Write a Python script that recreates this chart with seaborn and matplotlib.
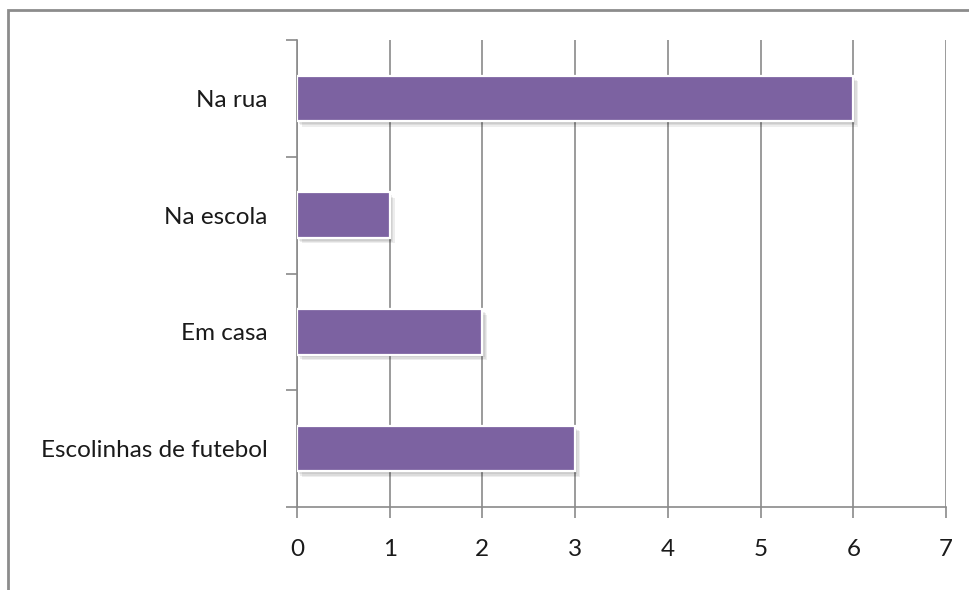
import matplotlib
matplotlib.use("Agg")
import matplotlib.pyplot as plt
import matplotlib.patheffects as pe
from matplotlib.patches import Rectangle
from matplotlib.ticker import FixedLocator
import seaborn as sns
import pandas as pd

categories = ["Na rua", "Na escola", "Em casa", "Escolinhas de futebol"]
values = [6, 1, 2, 3]
x_ticks = [0, 1, 2, 3, 4, 5, 6, 7]

sns.set_theme(style="white")
plt.rcParams["font.family"] = ["Lato", "DejaVu Sans"]

df = pd.DataFrame({"local": categories, "n": values})

fig = plt.figure(figsize=(9.7, 5.9), dpi=100)
ax = fig.add_axes([297 / 970, 1 - 507 / 590, (946 - 297) / 970, (507 - 40) / 590])

grid_c = "#8a8a8a"
sns.barplot(data=df, x="n", y="local", order=categories, orient="h",
            color="#7c62a1", saturation=1, width=0.39,
            edgecolor="white", linewidth=1.6, ax=ax, zorder=3)

# soft drop shadow under each bar
shadow = [pe.SimplePatchShadow(offset=(o, -o - 0.5), shadow_rgbFace="#000000", alpha=0.07)
          for o in (3.5, 2.5, 1.5)]
for bar in ax.patches:
    bar.set_path_effects(shadow + [pe.Normal()])

ax.set_xlim(0, 7)
ax.set_ylim(3.5, -0.5)
ax.set_xticks(x_ticks)
ax.set_xticklabels([str(t) for t in x_ticks])
ax.xaxis.grid(True, color=grid_c, linewidth=1.2, zorder=0)
ax.set_axisbelow(True)
ax.set_xlabel("")
ax.set_ylabel("")

for side in ["top", "right"]:
    ax.spines[side].set_visible(False)
for side in ["left", "bottom"]:
    ax.spines[side].set_color(grid_c)
    ax.spines[side].set_linewidth(1.2)

ax.tick_params(axis="x", which="major", direction="out", length=8, width=1.2,
               color=grid_c, pad=15, labelsize=17.5, labelcolor="#1a1a1a",
               bottom=True)
ax.tick_params(axis="y", which="major", length=0, pad=21, labelsize=17.5,
               labelcolor="#1a1a1a", left=True)
ax.yaxis.set_minor_locator(FixedLocator([-0.5, 0.5, 1.5, 2.5, 3.5]))
ax.tick_params(axis="y", which="minor", direction="out", length=8, width=1.2,
               color=grid_c, left=True)

# chart area frame
fig.patches.append(Rectangle((8 / 970, -0.2), 1.5, 1.2 - 10 / 590,
                             transform=fig.transFigure, fill=False,
                             edgecolor="#8c8c8c", linewidth=2, clip_on=False))

fig.savefig("out.png", dpi=100)
